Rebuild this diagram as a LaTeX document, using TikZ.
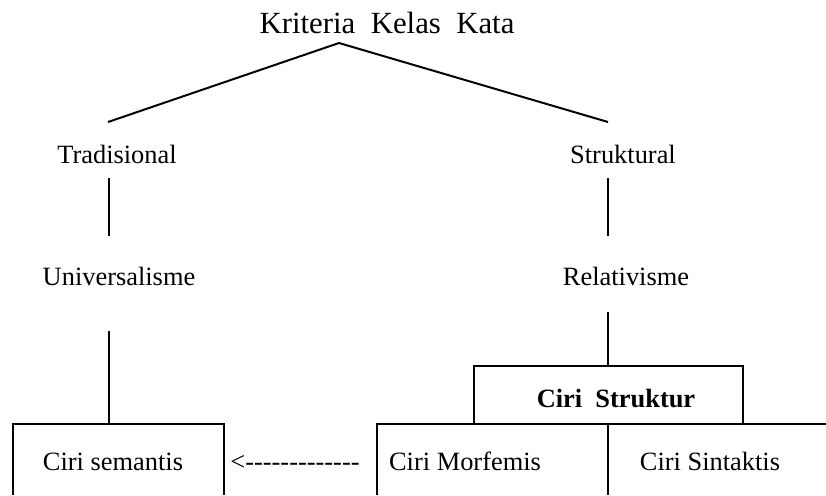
\documentclass[tikz,border=0pt]{standalone}
\usepackage{fontspec}
\setmainfont{Liberation Serif}
\newfontfamily\plainrm{Liberation Serif}
\begin{document}
\begin{tikzpicture}[x=0.4545pt, y=-0.4545pt]

  \tikzset{
    lbl/.style={anchor=base, inner sep=0pt, font=\fontsize{12}{14}\selectfont},
    ln/.style={line width=0.9pt},
  }
  \useasboundingbox (0,0) rectangle (826,495);

  % ----------------------------------------------------------------
  % labels
  % ----------------------------------------------------------------
  \node[lbl, font=\fontsize{14}{16}\selectfont] (kriteria) at (387,33) {Kriteria\ \ Kelas\ \ Kata};
  \node[lbl] (trad)  at (117,163) {Tradisional};
  \node[lbl] (strk)  at (623,163) {Struktural};
  \node[lbl] (univ)  at (119,285) {Universalisme};
  \node[lbl] (rel)   at (626,285) {Relativisme};
  \node[lbl, font=\fontsize{12}{14}\selectfont\bfseries] (ciristr) at (616,407) {Ciri\ \ Struktur};
  \node[lbl] (sem)   at (113,470) {Ciri semantis};
  \node[lbl, font=\fontsize{12}{14}\plainrm] (arr) at (295,470) {<-------------};
  \node[lbl] (morf)  at (465,470) {Ciri Morfemis};
  \node[lbl] (sint)  at (710,470) {Ciri Sintaktis};

  % ----------------------------------------------------------------
  % line ends
  % ----------------------------------------------------------------
  \coordinate (apex)   at (339,43);
  \coordinate (tradT)  at (108,122);
  \coordinate (strkT)  at (608,122);
  \coordinate (tradB)  at (109,178);
  \coordinate (univT)  at (109,236);
  \coordinate (strkB)  at (608,178);
  \coordinate (relT)   at (608,236);
  \coordinate (univB)  at (109,331);
  \coordinate (semT)   at (109,424);
  \coordinate (relB)   at (608,312);
  \coordinate (strT)   at (608,366);

  % tree
  \draw[ln] (tradT) -- (apex) -- (strkT);
  \draw[ln] (tradB) -- (univT);
  \draw[ln] (strkB) -- (relT);
  \draw[ln] (univB) -- (semT);
  \draw[ln] (relB) -- (strT);

  % boxes (open at the bottom)
  \draw[ln] (13,495) -- (13,424) -- (224,424) -- (224,495);
  \draw[ln] (474,424) -- (474,366) -- (743,366) -- (743,424);
  \draw[ln] (377,495) -- (377,424) -- (826,424);
  \draw[ln] (608,424) -- (608,495);

\end{tikzpicture}
\end{document}
